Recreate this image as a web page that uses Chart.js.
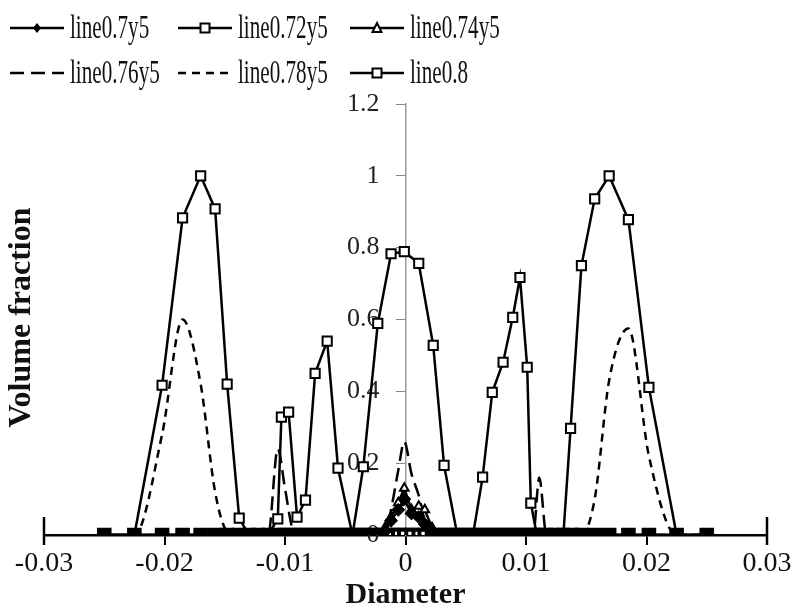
<!DOCTYPE html>
<html>
<head>
<meta charset="utf-8">
<script src="https://cdn.jsdelivr.net/npm/chart.js@4.4.1/dist/chart.umd.min.js"></script>
<style>
  html, body { margin: 0; padding: 0; background: #fff; }
  #wrap { position: relative; width: 794px; height: 610px; }
</style>
</head>
<body>
<div id="wrap"><canvas id="vf-chart"></canvas></div>
<script>
// Sampling positions shared by the y5 series.
const diameterFine = [
  -0.025, -0.0225, -0.0202, -0.0185, -0.017, -0.0158, -0.0148, -0.0138, -0.013, -0.0122,
  -0.0114, -0.0106, -0.01, -0.0094, -0.0088, -0.0082, -0.0076, -0.007, -0.0064, -0.0058,
  -0.0052, -0.0046, -0.004, -0.0034, -0.0028, -0.0022, -0.0017, -0.0012, -0.0006, -0.0001,
  0.0005, 0.0011, 0.0016, 0.0022, 0.0028, 0.0034, 0.004, 0.0046, 0.0052, 0.0058,
  0.0064, 0.007, 0.0076, 0.0082, 0.0088, 0.0094, 0.01, 0.0106, 0.0111, 0.0117,
  0.0124, 0.0131, 0.0138, 0.0146, 0.0157, 0.0169, 0.0185, 0.0202, 0.0225, 0.025
];

const fraction07 = [
  0, 0, 0, 0, 0, 0, 0, 0, 0, 0,
  0, 0, 0, 0, 0, 0, 0, 0, 0, 0,
  0, 0, 0, 0, 0, 0, 0.01, 0.04, 0.07, 0.1,
  0.06, 0.05, 0.03, 0.01, 0, 0, 0, 0, 0, 0,
  0, 0, 0, 0, 0, 0, 0, 0, 0, 0,
  0, 0, 0, 0, 0, 0, 0, 0, 0, 0
];

const fraction072 = [
  0, 0, 0, 0, 0, 0, 0, 0, 0, 0,
  0, 0, 0, 0, 0, 0, 0, 0, 0, 0,
  0, 0, 0, 0, 0, 0, 0, 0, 0, 0,
  0, 0, 0, 0, 0, 0, 0, 0, 0, 0,
  0, 0, 0, 0, 0, 0, 0, 0, 0, 0,
  0, 0, 0, 0, 0, 0, 0, 0, 0, 0
];

const fraction074 = [
  0, 0, 0, 0, 0, 0, 0, 0, 0, 0,
  0, 0, 0, 0, 0, 0, 0, 0, 0, 0,
  0, 0, 0, 0, 0, 0, 0.02, 0.05, 0.09, 0.13,
  0.07, 0.08, 0.07, 0.02, 0, 0, 0, 0, 0, 0,
  0, 0, 0, 0, 0, 0, 0, 0, 0, 0,
  0, 0, 0, 0, 0, 0, 0, 0, 0, 0
];

const fraction076 = [
  0, 0, 0, 0, 0, 0, 0, 0, 0, 0,
  0, 0.24, 0.13, 0.02, 0, 0, 0, 0, 0, 0,
  0, 0, 0, 0, 0, 0, 0, 0.07, 0.18, 0.26,
  0.17, 0.11, 0.04, 0, 0, 0, 0, 0, 0, 0,
  0, 0, 0, 0, 0, 0, 0, 0, 0.16, 0,
  0, 0, 0, 0, 0, 0, 0, 0, 0, 0
];

const fraction078 = [
  0, 0, 0.28, 0.6, 0.42, 0.12, 0.01, 0, 0, 0,
  0, 0, 0, 0, 0, 0, 0, 0, 0, 0,
  0, 0, 0, 0, 0, 0, 0, 0, 0, 0,
  0, 0, 0, 0, 0, 0, 0, 0, 0, 0,
  0, 0, 0, 0, 0, 0, 0, 0, 0, 0,
  0, 0, 0, 0, 0.1, 0.43, 0.575, 0.22, 0, 0
];

// line0.8 has its own sampling positions.
const diameter08 = [
  -0.025, -0.0225, -0.0202, -0.0185, -0.017, -0.0158, -0.0148, -0.0138, -0.013, -0.0122,
  -0.0114, -0.0106, -0.0103, -0.0097, -0.009, -0.0083, -0.0075, -0.0065, -0.0056, -0.0044,
  -0.0035, -0.0023, -0.0012, -0.0001, 0.0011, 0.0023, 0.0032, 0.0043, 0.005, 0.0056,
  0.0064, 0.0072, 0.0081, 0.0089, 0.0095, 0.0101, 0.0104, 0.0109, 0.0117, 0.0124,
  0.0131, 0.0137, 0.0146, 0.0157, 0.0169, 0.0185, 0.0202, 0.0225, 0.025
];
const fraction08 = [
  0, 0, 0.417, 0.883, 1.0, 0.908, 0.42, 0.047, 0, 0,
  0, 0.045, 0.328, 0.342, 0.05, 0.097, 0.45, 0.54, 0.186, 0,
  0.19, 0.589, 0.783, 0.789, 0.756, 0.528, 0.194, 0, 0, 0,
  0.161, 0.397, 0.481, 0.606, 0.717, 0.467, 0.089, 0, 0, 0,
  0, 0.297, 0.75, 0.936, 1.0, 0.878, 0.411, 0, 0
];

const seriesNames = ['line0.7y5', 'line0.72y5', 'line0.74y5', 'line0.76y5', 'line0.78y5', 'line0.8'];

function toPoints(xs, ys) {
  return xs.map((x, i) => ({ x: x, y: ys[i] }));
}

const serif = 'Liberation Serif, Times New Roman, serif';

// Legend entries: dash pattern and marker for each series.
const legendStyle = [
  { dash: [], marker: 'diamond' },
  { dash: [], marker: 'square' },
  { dash: [], marker: 'triangle' },
  { dash: [14, 7], marker: null },
  { dash: [8, 6], marker: null },
  { dash: [], marker: 'square' }
];

function drawMarker(ctx, kind, x, y) {
  ctx.save();
  ctx.setLineDash([]);
  ctx.lineWidth = 2;
  ctx.strokeStyle = '#000';
  ctx.beginPath();
  if (kind === 'diamond') {
    ctx.moveTo(x, y - 5); ctx.lineTo(x + 4, y); ctx.lineTo(x, y + 5); ctx.lineTo(x - 4, y);
    ctx.closePath();
    ctx.fillStyle = '#000';
    ctx.fill();
  } else if (kind === 'square') {
    ctx.rect(x - 4.5, y - 4.5, 9, 9);
    ctx.fillStyle = '#fff';
    ctx.fill();
    ctx.stroke();
  } else if (kind === 'triangle') {
    ctx.moveTo(x, y - 5); ctx.lineTo(x + 4.5, y + 4); ctx.lineTo(x - 4.5, y + 4);
    ctx.closePath();
    ctx.fillStyle = '#fff';
    ctx.fill();
    ctx.stroke();
  }
  ctx.restore();
}

const decorations = {
  id: 'decorations',
  afterDraw(chart) {
    const { ctx, chartArea } = chart;
    ctx.save();

    // end caps of the x axis
    ctx.strokeStyle = '#000';
    ctx.lineWidth = 2.5;
    [chartArea.left, chartArea.right].forEach(x => {
      ctx.beginPath();
      ctx.moveTo(x, chartArea.bottom - 18);
      ctx.lineTo(x, chartArea.bottom + 10);
      ctx.stroke();
    });

    // y axis title, kept at the far left
    ctx.save();
    ctx.translate(22, (chartArea.top + chartArea.bottom) / 2 - 2);
    ctx.rotate(-Math.PI / 2);
    ctx.font = 'bold 32px ' + serif;
    ctx.fillStyle = '#111';
    ctx.textAlign = 'center';
    ctx.textBaseline = 'middle';
    ctx.fillText('Volume fraction', 0, 0);
    ctx.restore();

    // legend, two rows of three
    const cols = [10, 178, 350];
    const rows = [28, 73];
    seriesNames.forEach((name, i) => {
      const x0 = cols[i % 3];
      const y0 = rows[Math.floor(i / 3)];
      const st = legendStyle[i];
      ctx.save();
      ctx.strokeStyle = '#000';
      ctx.lineWidth = 2.5;
      ctx.setLineDash(st.dash);
      ctx.beginPath();
      ctx.moveTo(x0, y0);
      ctx.lineTo(x0 + 54, y0);
      ctx.stroke();
      ctx.restore();
      if (st.marker) drawMarker(ctx, st.marker, x0 + 27, y0);

      ctx.save();
      ctx.translate(x0 + 60, y0 + 1);
      ctx.scale(0.64, 1);
      ctx.font = '33px ' + serif;
      ctx.fillStyle = '#111';
      ctx.textBaseline = 'middle';
      ctx.fillText(name, 0, 0);
      ctx.restore();
    });

    ctx.restore();
  }
};

const ctx = document.getElementById('vf-chart').getContext('2d');

const baseLine = { borderColor: '#000', borderWidth: 2.5, tension: 0, showLine: true };

new Chart(ctx, {
  type: 'scatter',
  data: {
    datasets: [
      Object.assign({}, baseLine, {
        label: seriesNames[0],
        order: 1,
        data: toPoints(diameterFine, fraction07),
        pointStyle: 'rectRot', pointRadius: 6.5, pointBorderWidth: 1,
        pointBackgroundColor: '#000', pointBorderColor: '#000'
      }),
      Object.assign({}, baseLine, {
        label: seriesNames[1],
        order: 2,
        data: toPoints(diameterFine, fraction072),
        pointStyle: 'rect', pointRadius: 7.5, pointBorderWidth: 4,
        pointBackgroundColor: '#fff', pointBorderColor: '#000'
      }),
      Object.assign({}, baseLine, {
        label: seriesNames[2],
        order: 3,
        data: toPoints(diameterFine, fraction074),
        pointStyle: 'triangle', pointRadius: 5, pointBorderWidth: 2,
        pointBackgroundColor: '#fff', pointBorderColor: '#000'
      }),
      Object.assign({}, baseLine, {
        label: seriesNames[3],
        order: 4,
        data: toPoints(diameterFine, fraction076),
        borderDash: [14, 7], pointRadius: 0, cubicInterpolationMode: 'monotone'
      }),
      Object.assign({}, baseLine, {
        label: seriesNames[4],
        order: 5,
        data: toPoints(diameterFine, fraction078),
        borderDash: [8, 6], pointRadius: 0, cubicInterpolationMode: 'monotone'
      }),
      Object.assign({}, baseLine, {
        label: seriesNames[5],
        order: 6,
        data: toPoints(diameter08, fraction08),
        pointStyle: 'rect', pointRadius: 6.5, pointBorderWidth: 2,
        pointBackgroundColor: '#fff', pointBorderColor: '#000'
      })
    ]
  },
  options: {
    responsive: true,
    maintainAspectRatio: false,
    animation: false,
    layout: { padding: { left: 44, right: 27, top: 104, bottom: 0 } },
    plugins: {
      legend: { display: false },
      tooltip: { enabled: false }
    },
    scales: {
      x: {
        type: 'linear',
        min: -0.03,
        max: 0.03,
        ticks: {
          stepSize: 0.01,
          autoSkip: false,
          maxRotation: 0,
          padding: 2,
          color: '#111',
          font: { family: serif, size: 28 }
        },
        grid: { drawOnChartArea: false, color: '#000', lineWidth: 2, tickLength: 10 },
        border: { color: '#000', width: 2.5 },
        title: {
          display: true,
          text: 'Diameter',
          color: '#111',
          padding: 0,
          font: { family: serif, size: 30, weight: 'bold', lineHeight: 1.0 }
        },
        afterFit(scale) {
          scale.height = 75;
          scale.paddingLeft = 0;
          scale.paddingRight = 0;
        }
      },
      y: {
        type: 'linear',
        position: { x: 0 },
        min: 0,
        max: 1.2,
        ticks: {
          stepSize: 0.2,
          color: '#222',
          font: { family: serif, size: 26 },
          // an axis placed at x = 0 ignores tick padding, so the gap is kept with en spaces
          callback: v => String(Math.round(v * 10) / 10) + '\u2002\u2002'
        },
        grid: { drawOnChartArea: false, color: '#888', lineWidth: 1, tickLength: 9 },
        border: { color: '#999', width: 1.5 }
      }
    }
  },
  plugins: [decorations]
});
</script>
</body>
</html>
